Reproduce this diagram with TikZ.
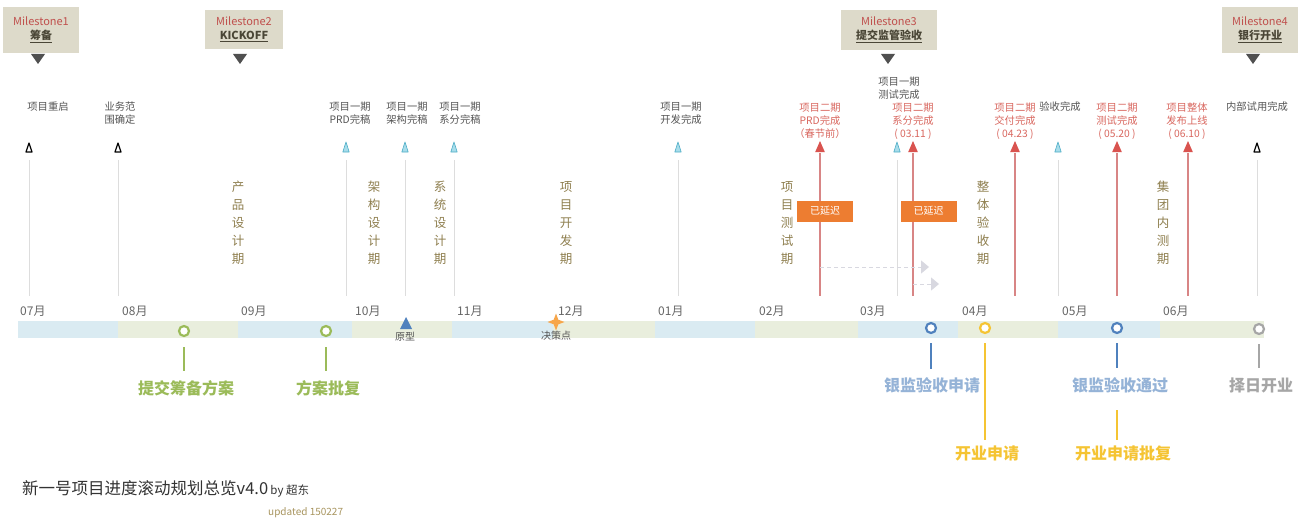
\documentclass[tikz,border=0pt]{standalone}
\usepackage{fontspec}
\setmainfont{Noto Sans CJK SC}
\usetikzlibrary{shapes.geometric,arrows.meta,calc}
\definecolor{msbg}{HTML}{DDDACA}
\definecolor{msred}{HTML}{C0504D}
\definecolor{msdark}{HTML}{4A4636}
\definecolor{lblgray}{HTML}{555555}
\definecolor{lblred}{HTML}{D9675F}
\definecolor{redmarkc}{HTML}{D9534F}
\definecolor{redline}{HTML}{D88585}
\definecolor{vlinec}{HTML}{DDDDDD}
\definecolor{cyanfill}{HTML}{A8DDEB}
\definecolor{cyanedge}{HTML}{4BACC6}
\definecolor{periodc}{HTML}{8F7F4F}
\definecolor{delayc}{HTML}{ED7D31}
\definecolor{bandblue}{HTML}{DAEBF2}
\definecolor{bandgreen}{HTML}{E9EEDD}
\definecolor{mgreen}{HTML}{9BBB59}
\definecolor{mblue}{HTML}{4F81BD}
\definecolor{lblblue}{HTML}{95B3D7}
\definecolor{myellow}{HTML}{F5C433}
\definecolor{mgray}{HTML}{A6A6A6}
\definecolor{monthc}{HTML}{666666}
\definecolor{dashc}{HTML}{D8D8E0}
\definecolor{titlec}{HTML}{333333}
\definecolor{updc}{HTML}{A8955F}
\definecolor{ptrc}{HTML}{505050}
\definecolor{starc}{HTML}{F7A64A}

\tikzset{
  blacktri/.pic={\draw[line width=1.2pt, fill=white, line join=round] (-3,0) -- (0,-9) -- (3,0) -- cycle;},
  cyantri/.pic={\draw[line width=0.6pt, draw=cyanedge, fill=cyanfill, line join=round] (-3.2,0) -- (0,-10) -- (3.2,0) -- cycle;},
  redmark/.pic={\fill[redmarkc] (-4.8,0) -- (0,-11) -- (4.8,0) -- cycle;},
}

\begin{document}
\begin{tikzpicture}[x=1pt,y=-1pt,
  msbox/.style={fill=msbg, inner sep=0pt, align=center, font=\fontsize{11}{14}\selectfont},
  ptr/.style={fill=ptrc},
  vl/.style={draw=vlinec, line width=0.9pt},
  rl/.style={draw=redline, line width=1.2pt},
  lg/.style={text=lblgray, align=center, inner sep=0pt, font=\fontsize{10.3}{13}\selectfont},
  lr/.style={text=lblred, align=center, inner sep=0pt, font=\fontsize{10.3}{13}\selectfont},
  per/.style={text=periodc, align=center, inner sep=0pt, font=\fontsize{12.5}{18}\selectfont},
  delaybox/.style={fill=delayc, text=white, minimum width=56, minimum height=21, inner sep=0pt, font=\fontsize{10}{12}\selectfont},
  dasharrow/.style={draw=dashc, line width=1pt, dash pattern=on 4pt off 3pt, -{Triangle[width=13pt,length=8pt]}},
  month/.style={text=monthc, anchor=west, inner sep=0pt, font=\fontsize{12}{13}\selectfont},
  ring/.style={circle, fill=white, line width=2.2pt, minimum size=10pt, inner sep=0pt},
  stem/.style={line width=2.8pt},
  big/.style={inner sep=0pt, font=\fontsize{16}{18}\selectfont\bfseries},
  small/.style={text=lblgray, inner sep=0pt, font=\fontsize{10}{12}\selectfont},
]
\useasboundingbox (0,0) rectangle (1309,527);
\fill[white] (0,0) rectangle (1309,527);

% ---- milestones
\node[msbox, minimum width=76, minimum height=46] (m1) at (41,30) {\textcolor{msred}{Milestone1}\\\textcolor{msdark}{\bfseries\underline{筹备}}};
\node[msbox, minimum width=78, minimum height=39] (m2) at (244,29.5) {\textcolor{msred}{Milestone2}\\\textcolor{msdark}{\bfseries\underline{KICKOFF}}};
\node[msbox, minimum width=96, minimum height=40] (m3) at (889,30) {\textcolor{msred}{Milestone3}\\\textcolor{msdark}{\bfseries\underline{提交监管验收}}};
\node[msbox, minimum width=76, minimum height=46] (m4) at (1260,30) {\textcolor{msred}{Milestone4}\\\textcolor{msdark}{\bfseries\underline{银行开业}}};
\foreach \p/\x in {p1/38, p2/240, p3/888, p4/1253}{
  \coordinate (\p) at (\x,54);
  \fill[ptr] (\p) ++(-7,0) -- ++(14,0) -- ++(-7,10) -- cycle;
}

% ---- event lines and markers
\foreach \nm/\x/\kind in {A/29/blacktri, B/118/blacktri, C/346/cyantri, D/405/cyantri, E/454/cyantri, F/678/cyantri, G/897/cyantri, H/1058/cyantri, I/1257/blacktri}{
  \coordinate (e\nm) at (\x,152);
  \coordinate (e\nm b) at (\x,296);
  \draw[vl] ($(e\nm)+(0,8)$) -- (e\nm b);
  \pic at (e\nm) {\kind};
}
\foreach \nm/\x in {R1/820, R2/913, R3/1015, R4/1117, R5/1188}{
  \coordinate (e\nm) at (\x,152);
  \coordinate (e\nm b) at (\x,296);
  \draw[rl] ($(e\nm)+(0,1)$) -- (e\nm b);
  \pic at (e\nm) {redmark};
}

% ---- event labels
\node[lg] (lA) at (48,107) {项目重启};
\node[lg] (lB) at (120,113.5) {业务范\\围确定};
\node[lg] (lC) at (350,113.5) {项目一期\\PRD完稿};
\node[lg] (lD) at (407,113.5) {项目一期\\架构完稿};
\node[lg] (lE) at (460,113.5) {项目一期\\系分完稿};
\node[lg] (lF) at (681,113.5) {项目一期\\开发完成};
\node[lg] (lG) at (899,88.5) {项目一期\\测试完成};
\node[lg] (lH) at (1060,107) {验收完成};
\node[lg] (lI) at (1257,107) {内部试用完成};
\node[lr] (lR1) at (820,121) {项目二期\\PRD完成\\（春节前）};
\node[lr] (lR2) at (913,121) {项目二期\\系分完成\\( 03.11 )};
\node[lr] (lR3) at (1015,121) {项目二期\\交付完成\\( 04.23 )};
\node[lr] (lR4) at (1117,121) {项目二期\\测试完成\\( 05.20 )};
\node[lr] (lR5) at (1187,121) {项目整体\\发布上线\\( 06.10 )};

% ---- periods
\node[per] (pa) at (238,223) {产\\品\\设\\计\\期};
\node[per] (pb) at (374,223) {架\\构\\设\\计\\期};
\node[per] (pc) at (440,223) {系\\统\\设\\计\\期};
\node[per] (pd) at (566,223) {项\\目\\开\\发\\期};
\node[per] (pe) at (787,223) {项\\目\\测\\试\\期};
\node[per] (pf) at (983,223) {整\\体\\验\\收\\期};
\node[per] (pg) at (1163,223) {集\\团\\内\\测\\期};

% ---- delays
\node[delaybox] (d1) at (825,211) {已延迟};
\node[delaybox] (d2) at (928.5,211) {已延迟};
\coordinate (da1) at (820,267); \coordinate (da1e) at (929,267);
\coordinate (da2) at (913,284); \coordinate (da2e) at (939,284);
\draw[dasharrow] (da1) -- (da1e);
\draw[dasharrow] (da2) -- (da2e);

% ---- band
\foreach \a/\b/\c in {18/118/bandblue, 118/238/bandgreen, 238/352/bandblue, 352/452/bandgreen, 452/553/bandblue, 553/655/bandgreen, 655/755/bandblue, 755/858/bandgreen, 858/958/bandblue, 958/1058/bandgreen, 1058/1160/bandblue, 1160/1264/bandgreen}{
  \fill[\c] (\a,321) rectangle (\b,338);
}
\foreach \m/\x in {07/20, 08/122, 09/241, 10/355, 11/457, 12/558, 01/658, 02/759, 03/860, 04/962, 05/1062, 06/1163}{
  \node[month] (mo\m) at (\x,311) {\m 月};
}

% ---- prototype & decision point
\coordinate (proto) at (406,317);
\fill[mblue] (proto) -- ++(6,12) -- ++(-12,0) -- cycle;
\node[small] (protol) at (405,337) {原型};
\node[star, star points=4, star point ratio=2.6, fill=starc, minimum size=17pt, inner sep=0pt] (dp) at (556,322) {};
\node[small] (dpl) at (556,336) {决策点};

% ---- bottom milestones
\node[ring, draw=mgreen] (c1) at (184,331) {};
\node[ring, draw=mgreen] (c2) at (326,331) {};
\node[ring, draw=mblue] (c3) at (931,328) {};
\node[ring, draw=myellow] (c4) at (985,328) {};
\node[ring, draw=mblue] (c5) at (1117,328) {};
\node[ring, draw=mgray] (c6) at (1259,329) {};

\node[big, text=mgreen] (t1) at (186,388) {提交筹备方案};
\node[big, text=mgreen] (t2) at (328,388) {方案批复};
\node[big, text=lblblue] (t3) at (932,385) {银监验收申请};
\node[big, text=myellow] (t4) at (987,453) {开业申请};
\node[big, text=lblblue] (t5) at (1120,385) {银监验收通过};
\node[big, text=mgray] (t6) at (1261,385) {择日开业};
\node[big, text=myellow] (t7) at (1123,453) {开业申请批复};

\draw[stem, mgreen] ($(c1.south)+(0,10)$) -- ($(c1.south |- t1.north)+(0,-9)$);
\draw[stem, mgreen] ($(c2.south)+(0,10)$) -- ($(c2.south |- t2.north)+(0,-9)$);
\draw[stem, mblue] ($(c3.south)+(0,9)$) -- ($(c3.south |- t3.north)+(0,-8)$);
\draw[stem, myellow] ($(c4.south)+(0,9)$) -- ($(c4.south |- t4.north)+(0,-5)$);
\draw[stem, mblue] ($(c5.south)+(0,9)$) -- ($(c5.south |- t5.north)+(0,-9)$);
\draw[stem, mgray] ($(c6.south)+(0,9)$) -- ($(c6.south |- t6.north)+(0,-9)$);
\coordinate (y7) at (1117,410);
\coordinate (y7e) at (1117,440);
\draw[stem, myellow] (y7) -- (y7e);

% ---- title
\node[anchor=west, inner sep=0pt, text=titlec] (title) at (22,489) {{\fontsize{16.5}{19}\selectfont 新一号项目进度滚动规划总览v4.0} {\fontsize{11.5}{13}\selectfont by 超东}};
\node[anchor=west, inner sep=0pt, text=updc, font=\fontsize{10}{12}\selectfont] (upd) at (268,513) {updated 150227};
\end{tikzpicture}
\end{document}
